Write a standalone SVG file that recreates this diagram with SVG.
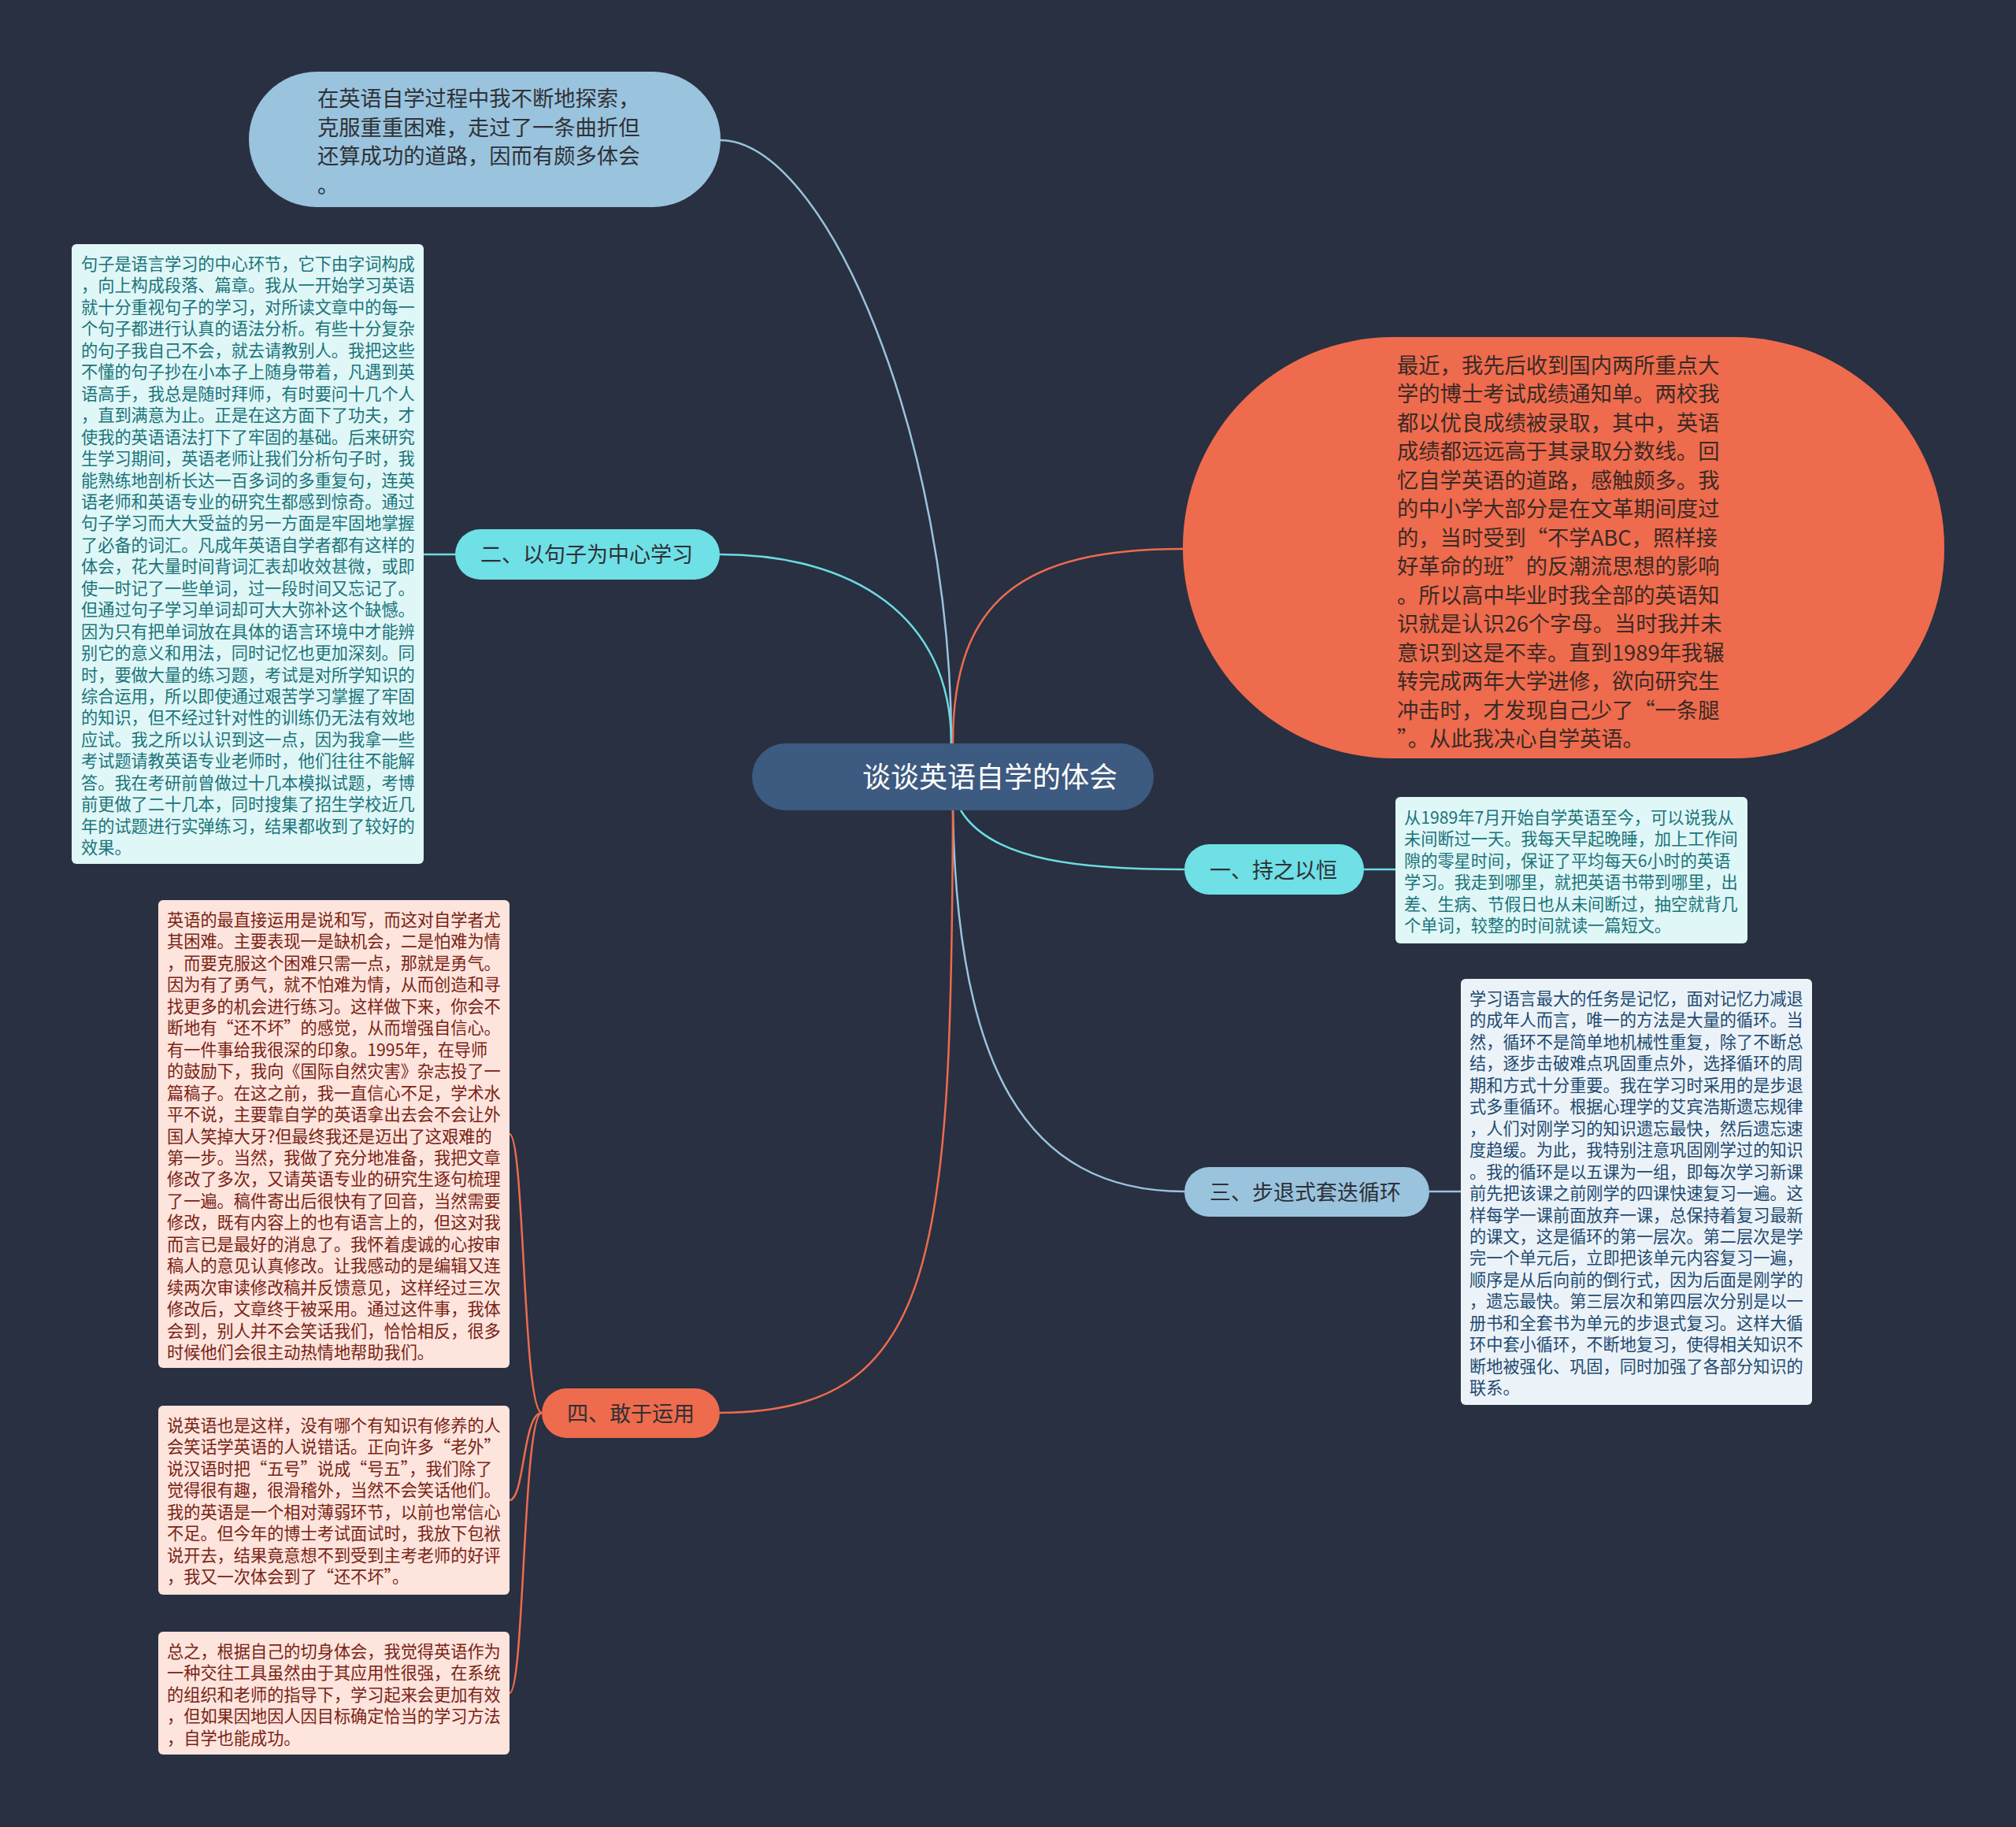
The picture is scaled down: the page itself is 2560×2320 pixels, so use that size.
<svg xmlns="http://www.w3.org/2000/svg" width="2560" height="2320" viewBox="0 0 2560 2320">
<style>
.t{font-family:"Noto Sans CJK SC","Noto Sans",sans-serif}
.d{font-size:21.2px}
.lc{fill:none;stroke:#6cdbe2;stroke-width:2.5}
.lb{fill:none;stroke:#9ac3de;stroke-width:2.5}
.lo{fill:none;stroke:#ee6b4d;stroke-width:2.5}
.br{font-size:27px;fill:#2e3035}
</style>
<rect x="0" y="0" width="2560" height="2320" fill="#283041"/>
<g id="connectors">
<path class="lb" d="M 914 178 C 1050 178, 1208 560, 1208 944"/>
<path class="lc" d="M 914 704 C 1080 704, 1208 780, 1208 944"/>
<path class="lo" d="M 1210 944 C 1210 760, 1300 697, 1502 697"/>
<path class="lc" d="M 1220 1029 C 1260 1095, 1380 1104, 1504 1104"/>
<path class="lb" d="M 1210 1029 C 1215 1350, 1300 1513, 1504 1513"/>
<path class="lo" d="M 1210 1029 C 1208 1600, 1190 1794, 914 1794"/>
<path class="lc" d="M 538 704 L 578 704"/>
<path class="lc" d="M 1732 1104 L 1772 1104"/>
<path class="lb" d="M 1815 1513 L 1855 1513"/>
<path class="lo" d="M 688 1794 C 664 1794, 666 1440, 647 1440"/>
<path class="lo" d="M 688 1794 C 664 1794, 666 1905, 647 1905"/>
<path class="lo" d="M 688 1794 C 664 1794, 666 2150, 647 2150"/>
</g>
<g id="center">
<rect x="955" y="944" width="510" height="85" rx="42.5" fill="#3d5a80"/>
<text class="t" x="1095" y="1000" font-size="36" fill="#ffffff">谈谈英语自学的体会</text>
</g>
<g id="top-bubble">
<rect x="316" y="91" width="599" height="172" rx="86" fill="#9ac3de"/>
<text class="t" font-size="27.3" fill="#2f3236"><tspan x="403" y="135">在英语自学过程中我不断地探索，</tspan><tspan x="403" y="171.5">克服重重困难，走过了一条曲折但</tspan><tspan x="403" y="208">还算成功的道路，因而有颇多体会</tspan><tspan x="403" y="244.5">。</tspan></text>
</g>
<g id="node-2">
<rect x="578" y="672" width="336" height="64" rx="32" fill="#6ee0e6"/>
<text class="t br" x="610" y="714">二、以句子为中心学习</text>
</g>
<g id="detail-2">
<rect x="91" y="310" width="447" height="787" rx="6" fill="#e0f7f8"/>
<text class="t d" fill="#1a7479"><tspan x="103" y="343">句子是语言学习的中心环节，它下由字词构成</tspan><tspan x="103" dy="27.45">，向上构成段落、篇章。我从一开始学习英语</tspan><tspan x="103" dy="27.45">就十分重视句子的学习，对所读文章中的每一</tspan><tspan x="103" dy="27.45">个句子都进行认真的语法分析。有些十分复杂</tspan><tspan x="103" dy="27.45">的句子我自己不会，就去请教别人。我把这些</tspan><tspan x="103" dy="27.45">不懂的句子抄在小本子上随身带着，凡遇到英</tspan><tspan x="103" dy="27.45">语高手，我总是随时拜师，有时要问十几个人</tspan><tspan x="103" dy="27.45">，直到满意为止。正是在这方面下了功夫，才</tspan><tspan x="103" dy="27.45">使我的英语语法打下了牢固的基础。后来研究</tspan><tspan x="103" dy="27.45">生学习期间，英语老师让我们分析句子时，我</tspan><tspan x="103" dy="27.45">能熟练地剖析长达一百多词的多重复句，连英</tspan><tspan x="103" dy="27.45">语老师和英语专业的研究生都感到惊奇。通过</tspan><tspan x="103" dy="27.45">句子学习而大大受益的另一方面是牢固地掌握</tspan><tspan x="103" dy="27.45">了必备的词汇。凡成年英语自学者都有这样的</tspan><tspan x="103" dy="27.45">体会，花大量时间背词汇表却收效甚微，或即</tspan><tspan x="103" dy="27.45">使一时记了一些单词，过一段时间又忘记了。</tspan><tspan x="103" dy="27.45">但通过句子学习单词却可大大弥补这个缺憾。</tspan><tspan x="103" dy="27.45">因为只有把单词放在具体的语言环境中才能辨</tspan><tspan x="103" dy="27.45">别它的意义和用法，同时记忆也更加深刻。同</tspan><tspan x="103" dy="27.45">时，要做大量的练习题，考试是对所学知识的</tspan><tspan x="103" dy="27.45">综合运用，所以即使通过艰苦学习掌握了牢固</tspan><tspan x="103" dy="27.45">的知识，但不经过针对性的训练仍无法有效地</tspan><tspan x="103" dy="27.45">应试。我之所以认识到这一点，因为我拿一些</tspan><tspan x="103" dy="27.45">考试题请教英语专业老师时，他们往往不能解</tspan><tspan x="103" dy="27.45">答。我在考研前曾做过十几本模拟试题，考博</tspan><tspan x="103" dy="27.45">前更做了二十几本，同时搜集了招生学校近几</tspan><tspan x="103" dy="27.45">年的试题进行实弹练习，结果都收到了较好的</tspan><tspan x="103" dy="27.45">效果。</tspan></text>
</g>
<g id="intro">
<rect x="1502" y="428" width="967" height="535" rx="267" fill="#ee6b4d"/>
<text class="t" font-size="27.3" fill="#3a2a26"><tspan x="1774" y="473.5">最近，我先后收到国内两所重点大</tspan><tspan x="1774" dy="36.5">学的博士考试成绩通知单。两校我</tspan><tspan x="1774" dy="36.5">都以优良成绩被录取，其中，英语</tspan><tspan x="1774" dy="36.5">成绩都远远高于其录取分数线。回</tspan><tspan x="1774" dy="36.5">忆自学英语的道路，感触颇多。我</tspan><tspan x="1774" dy="36.5">的中小学大部分是在文革期间度过</tspan><tspan x="1774" dy="36.5">的，当时受到“不学ABC，照样接</tspan><tspan x="1774" dy="36.5">好革命的班”的反潮流思想的影响</tspan><tspan x="1774" dy="36.5">。所以高中毕业时我全部的英语知</tspan><tspan x="1774" dy="36.5">识就是认识26个字母。当时我并未</tspan><tspan x="1774" dy="36.5">意识到这是不幸。直到1989年我辗</tspan><tspan x="1774" dy="36.5">转完成两年大学进修，欲向研究生</tspan><tspan x="1774" dy="36.5">冲击时，才发现自己少了“一条腿</tspan><tspan x="1774" dy="36.5">”。从此我决心自学英语。</tspan></text>
</g>
<g id="node-1">
<rect x="1504" y="1072" width="228" height="64" rx="32" fill="#6ee0e6"/>
<text class="t br" x="1536" y="1114.5">一、持之以恒</text>
</g>
<g id="detail-1">
<rect x="1772" y="1012" width="447" height="186" rx="6" fill="#e0f7f8"/>
<text class="t d" fill="#1a7479"><tspan x="1783" y="1046">从1989年7月开始自学英语至今，可以说我从</tspan><tspan x="1783" dy="27.45">未间断过一天。我每天早起晚睡，加上工作间</tspan><tspan x="1783" dy="27.45">隙的零星时间，保证了平均每天6小时的英语</tspan><tspan x="1783" dy="27.45">学习。我走到哪里，就把英语书带到哪里，出</tspan><tspan x="1783" dy="27.45">差、生病、节假日也从未间断过，抽空就背几</tspan><tspan x="1783" dy="27.45">个单词，较整的时间就读一篇短文。</tspan></text>
</g>
<g id="node-3">
<rect x="1504" y="1482" width="311" height="63" rx="31.5" fill="#9ac3de"/>
<text class="t br" x="1536" y="1523.5">三、步退式套迭循环</text>
</g>
<g id="detail-3">
<rect x="1855" y="1243" width="446" height="541" rx="6" fill="#ebf3f9"/>
<text class="t d" fill="#1f4a70"><tspan x="1866" y="1276">学习语言最大的任务是记忆，面对记忆力减退</tspan><tspan x="1866" dy="27.45">的成年人而言，唯一的方法是大量的循环。当</tspan><tspan x="1866" dy="27.45">然，循环不是简单地机械性重复，除了不断总</tspan><tspan x="1866" dy="27.45">结，逐步击破难点巩固重点外，选择循环的周</tspan><tspan x="1866" dy="27.45">期和方式十分重要。我在学习时采用的是步退</tspan><tspan x="1866" dy="27.45">式多重循环。根据心理学的艾宾浩斯遗忘规律</tspan><tspan x="1866" dy="27.45">，人们对刚学习的知识遗忘最快，然后遗忘速</tspan><tspan x="1866" dy="27.45">度趋缓。为此，我特别注意巩固刚学过的知识</tspan><tspan x="1866" dy="27.45">。我的循环是以五课为一组，即每次学习新课</tspan><tspan x="1866" dy="27.45">前先把该课之前刚学的四课快速复习一遍。这</tspan><tspan x="1866" dy="27.45">样每学一课前面放弃一课，总保持着复习最新</tspan><tspan x="1866" dy="27.45">的课文，这是循环的第一层次。第二层次是学</tspan><tspan x="1866" dy="27.45">完一个单元后，立即把该单元内容复习一遍，</tspan><tspan x="1866" dy="27.45">顺序是从后向前的倒行式，因为后面是刚学的</tspan><tspan x="1866" dy="27.45">，遗忘最快。第三层次和第四层次分别是以一</tspan><tspan x="1866" dy="27.45">册书和全套书为单元的步退式复习。这样大循</tspan><tspan x="1866" dy="27.45">环中套小循环，不断地复习，使得相关知识不</tspan><tspan x="1866" dy="27.45">断地被强化、巩固，同时加强了各部分知识的</tspan><tspan x="1866" dy="27.45">联系。</tspan></text>
</g>
<g id="node-4">
<rect x="688" y="1763" width="226" height="63" rx="31.5" fill="#ee6b4d"/>
<text class="t br" x="720" y="1804.5">四、敢于运用</text>
</g>
<g id="detail-4a">
<rect x="201" y="1143" width="446" height="594" rx="6" fill="#fde4dd"/>
<text class="t d" fill="#7a2314"><tspan x="212" y="1176">英语的最直接运用是说和写，而这对自学者尤</tspan><tspan x="212" dy="27.45">其困难。主要表现一是缺机会，二是怕难为情</tspan><tspan x="212" dy="27.45">，而要克服这个困难只需一点，那就是勇气。</tspan><tspan x="212" dy="27.45">因为有了勇气，就不怕难为情，从而创造和寻</tspan><tspan x="212" dy="27.45">找更多的机会进行练习。这样做下来，你会不</tspan><tspan x="212" dy="27.45">断地有“还不坏”的感觉，从而增强自信心。</tspan><tspan x="212" dy="27.45">有一件事给我很深的印象。1995年，在导师</tspan><tspan x="212" dy="27.45">的鼓励下，我向《国际自然灾害》杂志投了一</tspan><tspan x="212" dy="27.45">篇稿子。在这之前，我一直信心不足，学术水</tspan><tspan x="212" dy="27.45">平不说，主要靠自学的英语拿出去会不会让外</tspan><tspan x="212" dy="27.45">国人笑掉大牙?但最终我还是迈出了这艰难的</tspan><tspan x="212" dy="27.45">第一步。当然，我做了充分地准备，我把文章</tspan><tspan x="212" dy="27.45">修改了多次，又请英语专业的研究生逐句梳理</tspan><tspan x="212" dy="27.45">了一遍。稿件寄出后很快有了回音，当然需要</tspan><tspan x="212" dy="27.45">修改，既有内容上的也有语言上的，但这对我</tspan><tspan x="212" dy="27.45">而言已是最好的消息了。我怀着虔诚的心按审</tspan><tspan x="212" dy="27.45">稿人的意见认真修改。让我感动的是编辑又连</tspan><tspan x="212" dy="27.45">续两次审读修改稿并反馈意见，这样经过三次</tspan><tspan x="212" dy="27.45">修改后，文章终于被采用。通过这件事，我体</tspan><tspan x="212" dy="27.45">会到，别人并不会笑话我们，恰恰相反，很多</tspan><tspan x="212" dy="27.45">时候他们会很主动热情地帮助我们。</tspan></text>
</g>
<g id="detail-4b">
<rect x="201" y="1785" width="446" height="240" rx="6" fill="#fde4dd"/>
<text class="t d" fill="#7a2314"><tspan x="212" y="1818">说英语也是这样，没有哪个有知识有修养的人</tspan><tspan x="212" dy="27.45">会笑话学英语的人说错话。正向许多“老外”</tspan><tspan x="212" dy="27.45">说汉语时把“五号”说成“号五”，我们除了</tspan><tspan x="212" dy="27.45">觉得很有趣，很滑稽外，当然不会笑话他们。</tspan><tspan x="212" dy="27.45">我的英语是一个相对薄弱环节，以前也常信心</tspan><tspan x="212" dy="27.45">不足。但今年的博士考试面试时，我放下包袱</tspan><tspan x="212" dy="27.45">说开去，结果竟意想不到受到主考老师的好评</tspan><tspan x="212" dy="27.45">，我又一次体会到了“还不坏”。</tspan></text>
</g>
<g id="detail-4c">
<rect x="201" y="2072" width="446" height="156" rx="6" fill="#fde4dd"/>
<text class="t d" fill="#7a2314"><tspan x="212" y="2105">总之，根据自己的切身体会，我觉得英语作为</tspan><tspan x="212" dy="27.45">一种交往工具虽然由于其应用性很强，在系统</tspan><tspan x="212" dy="27.45">的组织和老师的指导下，学习起来会更加有效</tspan><tspan x="212" dy="27.45">，但如果因地因人因目标确定恰当的学习方法</tspan><tspan x="212" dy="27.45">，自学也能成功。</tspan></text>
</g>
</svg>
